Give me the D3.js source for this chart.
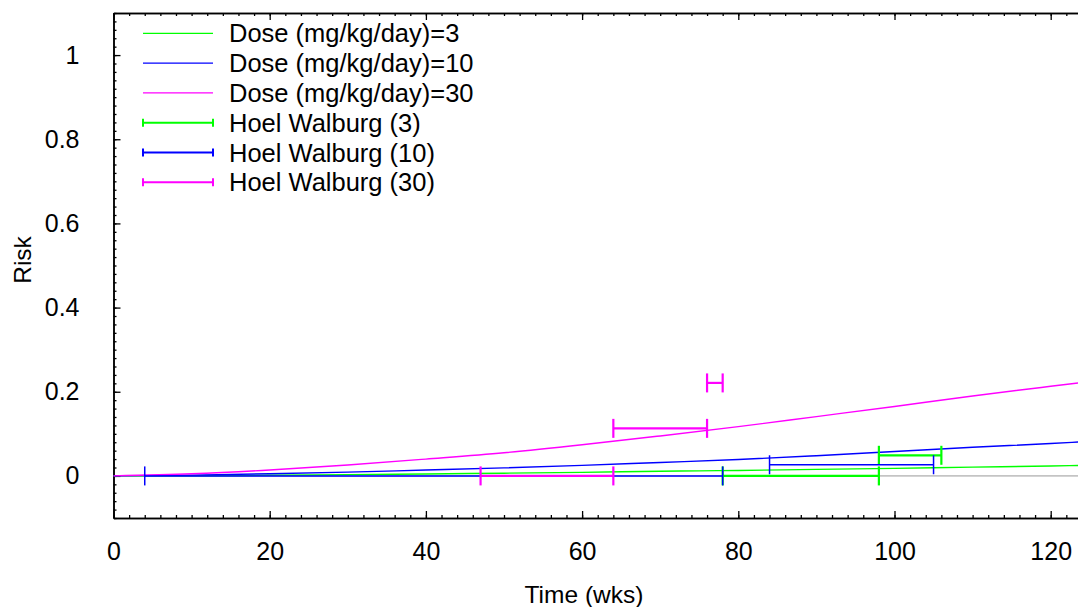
<!DOCTYPE html>
<html lang="en">
<head>
    <meta charset="UTF-8">
    <title>Risk vs Time</title>
    <style>
        html, body { margin: 0; padding: 0; background: #fff; overflow: hidden; }
        svg { display: block; font-family: "Liberation Sans", Arial, sans-serif; }
        .tick text { font-size: 25px; fill: #000; }
        .domain { stroke: #000; stroke-width: 1.5px; }
        .tick line { stroke: #000; stroke-width: 1.3px; }
    </style>
</head>
<body>
<script src="https://d3js.org/d3.v7.min.js"></script>
<script>
    // model curves
    const times = [0, 10, 20, 30, 40, 50, 60, 70, 80, 90, 100, 110, 120, 124];
    const dose3 = [0, 0.0005, 0.0015, 0.003, 0.0045, 0.0065, 0.0085, 0.011, 0.013, 0.0155, 0.018, 0.021, 0.0235, 0.025];
    const dose10 = [0, 0.002, 0.005, 0.009, 0.014, 0.019, 0.025, 0.032, 0.039, 0.048, 0.058, 0.068, 0.077, 0.081];
    const dose30 = [0, 0.005, 0.014, 0.026, 0.040, 0.055, 0.074, 0.095, 0.117, 0.141, 0.165, 0.190, 0.213, 0.222];

    // Hoel Walburg intervals: [start, end, risk]
    const hw3 = [[78, 98, 0], [98, 106, 0.049]];
    const hw10 = [[4, 78, 0], [84, 105, 0.0265]];
    const hw30 = [[47, 64, 0], [64, 76, 0.113], [76, 78, 0.221]];

    const xTicks = [0, 20, 40, 60, 80, 100, 120];
    const yTicks = [0, 0.2, 0.4, 0.6, 0.8, 1];
    const curveNames = ['Dose (mg/kg/day)=3', 'Dose (mg/kg/day)=10', 'Dose (mg/kg/day)=30'];
    const barNames = ['Hoel Walburg (3)', 'Hoel Walburg (10)', 'Hoel Walburg (30)'];
    const colors = ['#00ff00', '#0000ff', '#ff00ff'];

    {
        const width = 1078, height = 607;
        const svg = d3.select('body').append('svg')
            .attr('width', width)
            .attr('height', height);

        const margin = { left: 113.5, top: 13, bottom: 518 };

        const xScale = d3.scaleLinear().domain([0, 125]).range([margin.left, margin.left + 125 * 7.81]);
        const yScale = d3.scaleLinear().domain([-0.1, 1.1]).range([margin.bottom, margin.top]);

        const minorX = d3.range(0, 126, 2);
        const minorY = d3.range(-10, 111, 2).map(v => v / 100);

        // zero line
        svg.append('line')
            .attr('x1', margin.left).attr('x2', width)
            .attr('y1', yScale(0)).attr('y2', yScale(0))
            .attr('stroke', '#c4c4c4')
            .attr('stroke-width', 1.8);

        // axes: minor ticks first, then major ticks with labels
        svg.append('g').attr('transform', `translate(0, ${margin.bottom})`)
            .call(d3.axisBottom(xScale).tickValues(minorX).tickSize(-3).tickSizeOuter(0).tickFormat(''));
        svg.append('g').attr('transform', `translate(0, ${margin.bottom})`)
            .call(d3.axisBottom(xScale).tickValues(xTicks).tickSize(-7).tickSizeOuter(0).tickPadding(24));

        svg.append('g').attr('transform', `translate(0, ${margin.top})`)
            .call(d3.axisTop(xScale).tickValues(minorX).tickSize(-3).tickSizeOuter(0).tickFormat(''));
        svg.append('g').attr('transform', `translate(0, ${margin.top})`)
            .call(d3.axisTop(xScale).tickValues(xTicks).tickSize(-7).tickSizeOuter(0).tickFormat(''));

        svg.append('g').attr('transform', `translate(${margin.left}, 0)`)
            .call(d3.axisLeft(yScale).tickValues(minorY).tickSize(-3).tickSizeOuter(0).tickFormat(''));
        svg.append('g').attr('transform', `translate(${margin.left}, 0)`)
            .call(d3.axisLeft(yScale).tickValues(yTicks).tickSize(-7).tickSizeOuter(0).tickPadding(34)
                .tickFormat(d3.format('')));

        svg.selectAll('g').attr('font-family', null).attr('font-size', null);

        // axis titles
        svg.append('text')
            .text('Time (wks)')
            .attr('x', 584)
            .attr('y', 603)
            .attr('text-anchor', 'middle')
            .attr('font-size', 24.5);

        svg.append('text')
            .text('Risk')
            .attr('transform', `translate(31, 260) rotate(-90)`)
            .attr('text-anchor', 'middle')
            .attr('font-size', 24.5);

        // curves
        const line = d3.line()
            .x((d, i) => xScale(times[i]))
            .y(d => yScale(d))
            .curve(d3.curveMonotoneX);

        const plot = svg.append('g');

        [dose3, dose10, dose30].forEach((s, k) => {
            plot.append('path')
                .attr('d', line(s))
                .attr('fill', 'none')
                .attr('stroke', colors[k])
                .attr('stroke-width', 1.4);
        });

        // error bars
        const cap = 9.5;
        [hw3, hw10, hw30].forEach((bars, k) => {
            const g = plot.append('g')
                .attr('stroke', colors[k])
                .attr('stroke-width', k === 1 ? 1.5 : 2.2);
            g.selectAll('.hbar').data(bars).join('line')
                .attr('x1', d => xScale(d[0])).attr('x2', d => xScale(d[1]))
                .attr('y1', d => yScale(d[2])).attr('y2', d => yScale(d[2]));
            g.selectAll('.cap0').data(bars).join('line')
                .attr('x1', d => xScale(d[0])).attr('x2', d => xScale(d[0]))
                .attr('y1', d => yScale(d[2]) - cap).attr('y2', d => yScale(d[2]) + cap);
            g.selectAll('.cap1').data(bars).join('line')
                .attr('x1', d => xScale(d[1])).attr('x2', d => xScale(d[1]))
                .attr('y1', d => yScale(d[2]) - cap).attr('y2', d => yScale(d[2]) + cap);
        });

        // legend
        const legend = svg.append('g').attr('transform', 'translate(143, 33.3)');
        const rowH = 29.8;
        const items = curveNames.concat(barNames);

        items.forEach((name, i) => {
            const k = i % 3;
            const row = legend.append('g').attr('transform', `translate(0, ${i * rowH})`);
            row.append('line')
                .attr('x1', 0).attr('x2', 70)
                .attr('stroke', colors[k])
                .attr('stroke-width', i < 3 ? 1.3 : 2);
            if (i >= 3) {
                [0, 70].forEach(x => row.append('line')
                    .attr('x1', x).attr('x2', x)
                    .attr('y1', -4).attr('y2', 4)
                    .attr('stroke', colors[k])
                    .attr('stroke-width', 2));
            }
            row.append('text')
                .text(name)
                .attr('x', 86)
                .attr('dy', '0.36em')
                .attr('font-size', 25.5);
        });
    }
</script>
</body>
</html>
